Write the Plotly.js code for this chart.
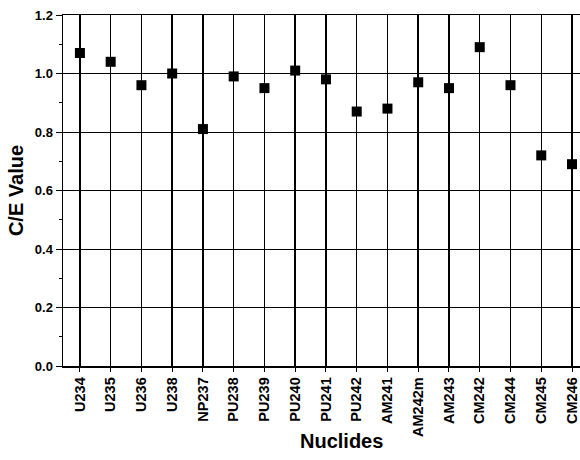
<!DOCTYPE html>
<html>
<head>
<meta charset="utf-8">
<script src="https://cdn.plot.ly/plotly-3.0.1.min.js"></script>
<style>html,body{margin:0;padding:0;background:#fff;}#chart{width:580px;height:460px;}</style>
</head>
<body>
<div id="chart"></div>
<script>
const nuclides = ["U234","U235","U236","U238","NP237","PU238","PU239","PU240","PU241","PU242","AM241","AM242m","AM243","CM242","CM244","CM245","CM246"];
const ceValues = [1.07,1.04,0.96,1.00,0.81,0.99,0.95,1.01,0.98,0.87,0.88,0.97,0.95,1.09,0.96,0.72,0.69];
const yTicks = [0.0,0.2,0.4,0.6,0.8,1.0,1.2];
const yTickText = ["0.0","0.2","0.4","0.6","0.8","1.0","1.2"];
const xTitle = "Nuclides";
const yTitle = "C/E Value";

const trace = {
  x: nuclides,
  y: ceValues,
  type: "scatter",
  mode: "markers",
  marker: {symbol: "square", size: 10, color: "#000"},
  hoverinfo: "x+y"
};

const FONT = "Liberation Sans, Arial, Helvetica, sans-serif";
const layout = {
  width: 580, height: 460,
  margin: {l: 63, r: 0, t: 15, b: 94},
  paper_bgcolor: "#fff", plot_bgcolor: "#fff",
  showlegend: false,
  font: {family: FONT, color: "#000"},
  xaxis: {
    type: "category",
    categoryorder: "array", categoryarray: nuclides,
    range: [-0.55, 16.26],
    showgrid: true, gridcolor: "#000", gridwidth: 1.5,
    showline: true, linecolor: "#000", linewidth: 1.5, mirror: true,
    ticks: "outside", ticklen: 4, tickcolor: "#000", tickwidth: 1,
    tickangle: -90,
    tickfont: {size: 14.5, family: FONT, weight: "bold"},
    zeroline: false, fixedrange: true
  },
  yaxis: {
    range: [0, 1.2],
    tickvals: yTicks, ticktext: yTickText,
    showgrid: true, gridcolor: "#000", gridwidth: 1,
    showline: true, linecolor: "#000", linewidth: 1.5,
    ticks: "outside", ticklen: 6, tickcolor: "#000", tickwidth: 1,
    minor: {dtick: 0.1, ticks: "outside", ticklen: 3, tickcolor: "#000", showgrid: false},
    tickfont: {size: 13, family: FONT, weight: "bold"},
    title: {text: yTitle, font: {size: 20, family: FONT, weight: "bold"}, standoff: 6},
    zeroline: false, fixedrange: true
  },
  annotations: [{
    text: xTitle, xref: "paper", yref: "paper",
    x: 0.538, y: -0.214, xanchor: "center", yanchor: "middle",
    showarrow: false,
    font: {size: 20, family: FONT, weight: "bold", color: "#000"}
  }]
};

Plotly.newPlot("chart", [trace], layout, {displayModeBar: false, staticPlot: true});
</script>
</body>
</html>
